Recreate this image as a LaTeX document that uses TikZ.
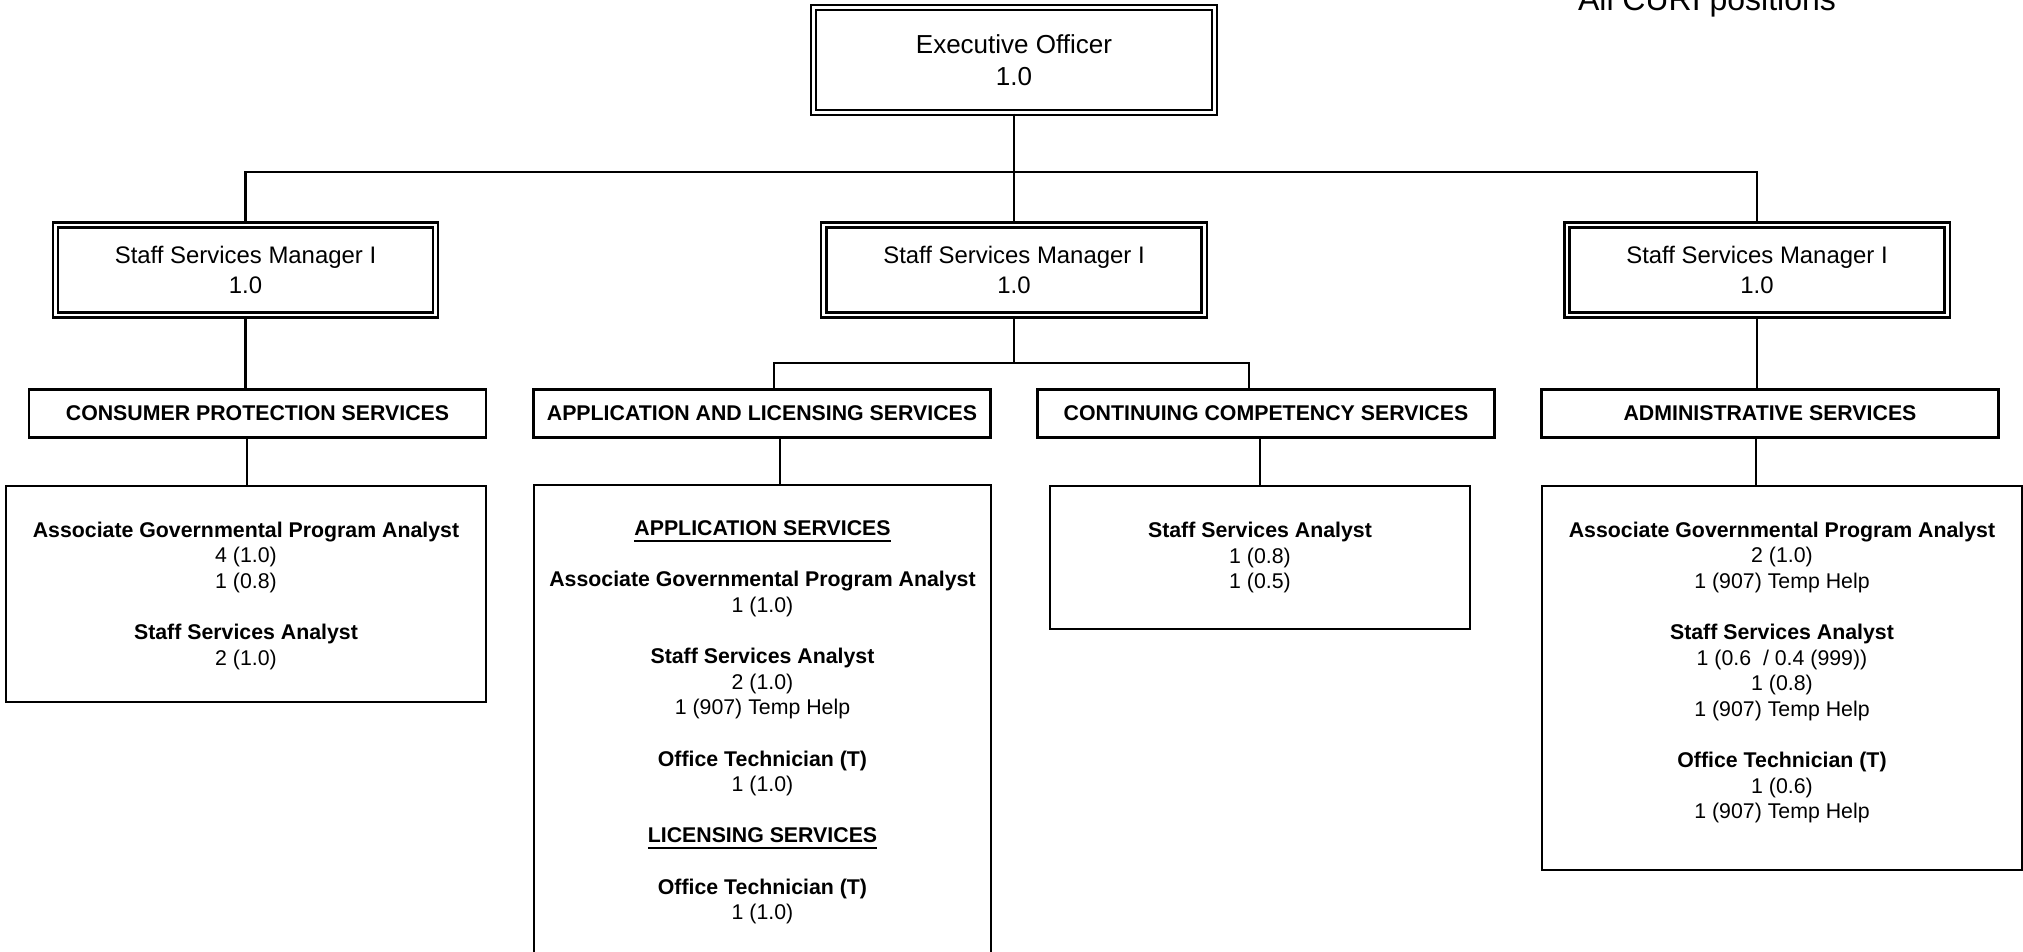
\documentclass[tikz,border=0pt]{standalone}
\usepackage{fontspec}
\setmainfont{Liberation Sans}
\usetikzlibrary{positioning}
\newcommand{\blankrow}{\\[7.28pt]}

\begin{document}
\begin{tikzpicture}[x=0.01cm, y=-0.01cm, line width=0.7pt,
office/.style={draw, double, double distance=0.028cm, line width=0.024cm,
align=center, inner sep=0pt},
unit/.style={draw, minimum width=4.57cm, minimum height=0.48cm, inner sep=0pt,
font=\fontsize{6.06}{7.28}\selectfont\bfseries},
staffbox/.style={draw, inner sep=0pt},
staff/.style={align=center, inner sep=0pt, font=\fontsize{6.06}{7.28}\selectfont}]
  \useasboundingbox (0,0) rectangle (2023,952);
  % note
  \node[anchor=base, font=\fontsize{9.1}{11}\selectfont] (note) at (1707,11) {All CURI positions};
  % executive
  \node[office, minimum width=4.01cm, minimum height=1.05cm,
    font=\fontsize{7.4}{9.1}\selectfont] (eo) at (1014,60) {Executive Officer\\1.0};
  % managers
  \node[office, minimum width=3.8cm, minimum height=0.9cm,
    font=\fontsize{6.8}{8.5}\selectfont] (m1) at (245.5,270) {Staff Services Manager I\\1.0};
  \node[office, minimum width=3.8cm, minimum height=0.9cm,
    font=\fontsize{6.8}{8.5}\selectfont] (m2) at (1014,270) {Staff Services Manager I\\1.0};
  \node[office, minimum width=3.8cm, minimum height=0.9cm,
    font=\fontsize{6.8}{8.5}\selectfont] (m3) at (1757,270) {Staff Services Manager I\\1.0};
  % units
  \node[unit] (d1) at (257.5,413.5) {CONSUMER PROTECTION SERVICES};
  \node[unit] (d2) at (762,413.5)   {APPLICATION AND LICENSING SERVICES};
  \node[unit] (d3) at (1266,413.5)  {CONTINUING COMPETENCY SERVICES};
  \node[unit] (d4) at (1770,413.5)  {ADMINISTRATIVE SERVICES};
  % staff boxes
  \node[staffbox, minimum width=4.8cm, minimum height=2.16cm]  (b1) at (246,594)    {};
  \node[staffbox, minimum width=4.57cm, minimum height=4.75cm] (b2) at (762.5,722.5) {};
  \node[staffbox, minimum width=4.2cm, minimum height=1.43cm]  (b3) at (1260,557.5) {};
  \node[staffbox, minimum width=4.8cm, minimum height=3.84cm]  (b4) at (1782,678)   {};
  % staff lists
  \node[staff, below=0.36cm of b1.north] (t1) {%
    \textbf{Associate Governmental Program Analyst}\\4 (1.0)\\1 (0.8)\blankrow
    \textbf{Staff Services Analyst}\\2 (1.0)};
  \node[staff, below=0.36cm of b2.north] (t2) {%
    \textbf{\underline{APPLICATION SERVICES}}\blankrow
    \textbf{Associate Governmental Program Analyst}\\1 (1.0)\blankrow
    \textbf{Staff Services Analyst}\\2 (1.0)\\1 (907) Temp Help\blankrow
    \textbf{Office Technician (T)}\\1 (1.0)\blankrow
    \textbf{\underline{LICENSING SERVICES}}\blankrow
    \textbf{Office Technician (T)}\\1 (1.0)};
  \node[staff, below=0.36cm of b3.north] (t3) {%
    \textbf{Staff Services Analyst}\\1 (0.8)\\1 (0.5)};
  \node[staff, below=0.36cm of b4.north] (t4) {%
    \textbf{Associate Governmental Program Analyst}\\2 (1.0)\\1 (907) Temp Help\blankrow
    \textbf{Staff Services Analyst}\\1 (0.6\ \ / 0.4 (999))\\1 (0.8)\\1 (907) Temp Help\blankrow
    \textbf{Office Technician (T)}\\1 (0.6)\\1 (907) Temp Help};

  \coordinate (j0) at (1014,172);
  \coordinate (j1) at (1014,363);
  \draw (eo.south) -- (j0);
  \draw (m1.north) |- (j0) -| (m3.north);
  \draw (j0) -- (m2.north);
  \draw (m2.south) -- (j1);
  \draw ([xshift=0.12cm]d2.north) |- (j1) -| ([xshift=-0.17cm]d3.north);
  \draw (m1.south) -- (m1.south |- d1.north);
  \draw (m3.south) -- (m3.south |- d4.north);
\foreach \x/\from/\to in {247/d1/b1,780/d2/b2,1260/d3/b3,1756/d4/b4}
    \draw (\from.south -| \x,0) -- (\to.north -| \x,0);
\end{tikzpicture}
\end{document}
